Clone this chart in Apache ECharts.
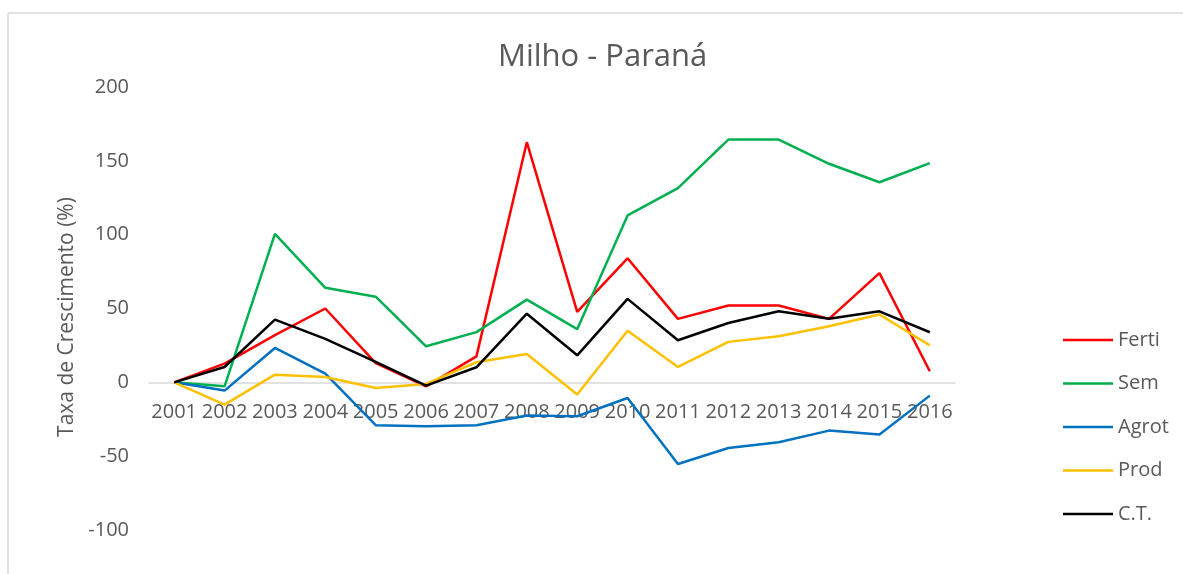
<!DOCTYPE html>
<html>
<head>
<meta charset="utf-8">
<title>Milho - Paraná</title>
<script src="https://cdn.jsdelivr.net/npm/echarts@6/dist/echarts.min.js"></script>
<style>
html, body { margin: 0; padding: 0; background: #fff; }
#chart { width: 1183px; height: 574px; }
</style>
</head>
<body>
<div id="chart"></div>
<script>
// dados
var anos = ['2001','2002','2003','2004','2005','2006','2007','2008','2009','2010','2011','2012','2013','2014','2015','2016'];
var ferti = [0, 12.7, 32, 50, 13, -2.7, 17.6, 162.6, 47.7, 84, 43, 52, 52, 43, 74, 7.5];
var sem   = [0, -2.7, 100.5, 64, 58, 24.4, 34, 56, 36, 113, 131.5, 164.4, 164.4, 148, 135.5, 148.4];
var agrot = [0, -5.6, 23.3, 5.9, -29, -29.8, -29, -22.4, -23, -10.6, -55.3, -44.5, -40.6, -32.7, -35.4, -9];
var prod  = [0, -15.1, 5.2, 3.6, -3.8, -1.1, 13.6, 19.2, -8.3, 35, 10.4, 27.4, 31.2, 38, 45.9, 25];
var ct    = [0, 10.4, 42.5, 29.4, 13.8, -2.2, 10.2, 46.5, 18.3, 56.5, 28.5, 40.2, 48.1, 43, 48.1, 33.9];

var fonte = '"Open Sans", "Noto Sans", sans-serif';
var cinza = '#595959';

function serie(nome, dados, cor) {
  return {
    name: nome,
    type: 'line',
    data: dados,
    symbol: 'none',
    lineStyle: { width: 2.5, color: cor },
    itemStyle: { color: cor }
  };
}

var chart = echarts.init(document.getElementById('chart'));
chart.setOption({
  animation: false,
  backgroundColor: '#fff',
  textStyle: { fontFamily: fonte },
  title: {
    text: 'Milho - Paraná',
    left: 498,
    top: 42,
    padding: 0,
    textStyle: { fontSize: 31, fontWeight: 'normal', color: cinza, fontFamily: fonte }
  },
  graphic: [
    { type: 'line', shape: { x1: 8, y1: 13, x2: 1183, y2: 13 }, style: { stroke: '#d9d9d9', lineWidth: 1.5 } },
    { type: 'line', shape: { x1: 8, y1: 13, x2: 8, y2: 574 }, style: { stroke: '#d9d9d9', lineWidth: 1.5 } }
  ],
  legend: {
    orient: 'vertical',
    left: 1063,
    top: 330,
    padding: 0,
    icon: 'rect',
    itemWidth: 50,
    itemHeight: 2.5,
    itemGap: 23.5,
    textStyle: { fontSize: 20, color: cinza, fontFamily: fonte },
    data: ['Ferti', 'Sem', 'Agrot', 'Prod', 'C.T.']
  },
  grid: { left: 149, top: 87, width: 806, height: 443 },
  xAxis: {
    type: 'category',
    data: anos,
    boundaryGap: true,
    offset: -147.7,
    axisLine: { onZero: false, lineStyle: { color: '#d9d9d9', width: 1.5 } },
    axisTick: { show: false },
    axisLabel: { fontSize: 20, color: cinza, margin: 20, interval: 0, fontFamily: fonte },
    splitLine: { show: false }
  },
  yAxis: {
    type: 'value',
    min: -100,
    max: 200,
    interval: 50,
    name: 'Taxa de Crescimento (%)',
    nameLocation: 'middle',
    nameGap: 64,
    nameTextStyle: { fontSize: 21, color: cinza, fontFamily: fonte, padding: [0, 17, 0, 0] },
    axisLine: { show: false },
    axisTick: { show: false },
    axisLabel: { fontSize: 20, color: cinza, margin: 20, fontFamily: fonte },
    splitLine: { show: false }
  },
  series: [
    serie('Ferti', ferti, '#ff0000'),
    serie('Sem', sem, '#00b050'),
    serie('Agrot', agrot, '#0070c0'),
    serie('Prod', prod, '#ffc000'),
    serie('C.T.', ct, '#000000')
  ]
});
</script>
</body>
</html>
